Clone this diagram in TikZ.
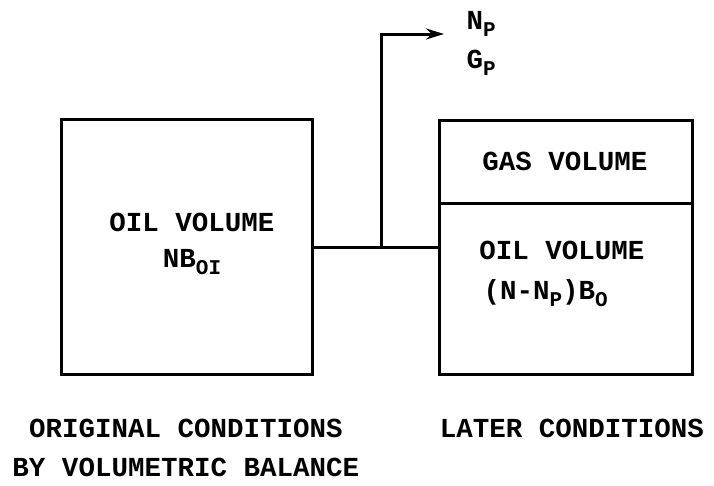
\documentclass[tikz,border=0pt]{standalone}
\usepackage{fontspec}
\setmainfont{Liberation Mono}
\usetikzlibrary{arrows.meta}

% lowered subscript in the same typewriter face
\newcommand{\lowsub}[1]{\raisebox{-0.45ex}{\fontsize{21}{21}\selectfont #1}}

\begin{document}
\begin{tikzpicture}[x=1pt, y=-1pt, line width=3pt, >={Stealth[length=18pt,width=11pt]},
  font=\fontsize{27.5}{30}\selectfont\bfseries, every node/.style={inner sep=0pt}]
\useasboundingbox (0,0) rectangle (714,485);

% the two tanks
\node (orig) at (186.5,246.5) [draw, minimum width=251pt, minimum height=255pt] {};
\node (gas)  at (565.5,161.5) [draw, minimum width=253pt, minimum height=83pt] {};
\node (oil)  at (565.5,288.5) [draw, minimum width=253pt, minimum height=171pt] {};

% texts inside the tanks
\node (oilleft)  at (192,222) {OIL VOLUME};
\node (nboi)     at (192,262) {NB\lowsub{OI}};
\node (gastext)  at (565,161) {GAS VOLUME};
\node (oilright) at (562,250) {OIL VOLUME};
\node (nnp) [anchor=west] at (482,293) {(N-N\lowsub{P})B\lowsub{O}};

% produced fluids
\node (np) [anchor=west] at (465,24) {N\lowsub{P}};
\node (gp) [anchor=west] at (465,63) {G\lowsub{P}};

% pipe between the tanks and the outlet
\coordinate (split) at (381,247);
\coordinate (tip) at (444,34);
\draw (orig.east |- split) -- (oil.west |- split);
\draw[->] (split) |- (tip);

% captions
\node (origcap)  at (186,428) {ORIGINAL CONDITIONS};
\node (latercap) at (572,428) {LATER CONDITIONS};
\node (method) [anchor=west] at (11,467) {BY VOLUMETRIC BALANCE};

\end{tikzpicture}
\end{document}
